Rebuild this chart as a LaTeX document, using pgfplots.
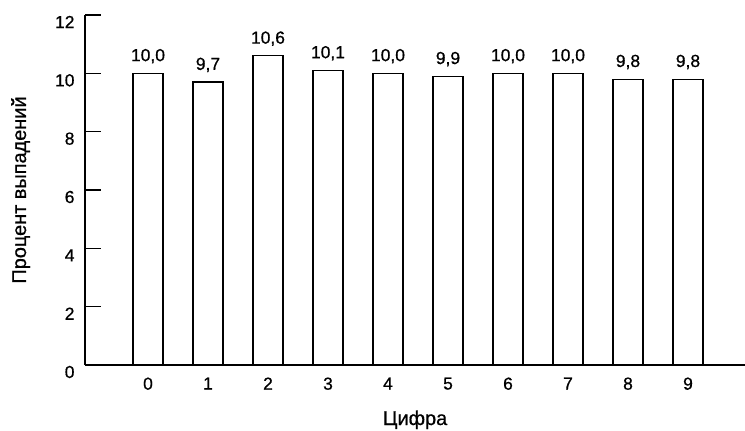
\documentclass[border=0pt]{standalone}
\usepackage{pgfplots}
\pgfplotsset{compat=1.18}
\usepackage{fontspec}
\setmainfont{Liberation Sans}[FakeBold=0.7]
\begin{document}
\begin{tikzpicture}
\useasboundingbox (-85bp,-66bp) rectangle (660bp,365bp);
\begin{axis}[name=ax, at={(0,0)}, anchor=south west, scale only axis,
  width=660bp, height=350bp,
  xmin=-1.05, xmax=9.95, ymin=0, ymax=12,
  axis x line=bottom, axis y line=left,
  axis line style={-, line width=1.6bp, black},
  xtick={0,...,9}, ytick={0,2,...,12},
  xtick style={draw=none},
  ytick style={line width=1.4bp, black},
  major tick length=16bp, tick align=inside,
  /pgf/number format/assume math mode=true,
  tick label style={font=\fontsize{17.5}{20}\selectfont},
  xticklabel style={yshift=7bp},
  yticklabel style={xshift=-7bp, yshift=-7bp},
  ybar, bar width=30bp,
  nodes near coords={\pgfmathprintnumber[use comma,fixed,fixed zerofill,precision=1]{\pgfplotspointmeta}},
  nodes near coords style={font=\fontsize{17.5}{20}\selectfont, yshift=6bp},
]
\addplot[fill=white, draw=black, line width=1.3bp] coordinates {
  (0,10.0) (1,9.7) (2,10.6) (3,10.1) (4,10.0)
  (5,9.9) (6,10.0) (7,10.0) (8,9.8) (9,9.8)
};
\end{axis}
\node[rotate=90, anchor=base, font=\fontsize{20}{24}\selectfont] at ([xshift=-59bp]ax.west) {Процент выпадений};
\node[anchor=base, font=\fontsize{20}{24}\selectfont] at ([yshift=-60bp]ax.south) {Цифра};
\end{tikzpicture}
\end{document}
